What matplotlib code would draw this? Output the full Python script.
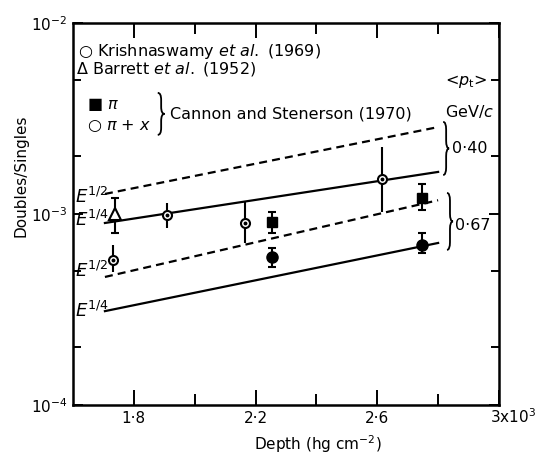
import numpy as np
import matplotlib
matplotlib.use("Agg")
import matplotlib.pyplot as plt
from matplotlib.path import Path
from matplotlib.patches import PathPatch
from matplotlib.ticker import FixedLocator, LogLocator, NullFormatter
from matplotlib.transforms import ScaledTranslation

plt.rcParams['font.family'] = ['DejaVu Sans']
plt.rcParams['mathtext.fontset'] = 'dejavusans'

# Krishnaswamy et al. (1969)
kris_x = [1.731, 1.908, 2.164, 2.617]
kris_y = [0.574e-3, 0.99e-3, 0.897e-3, 1.525e-3]
kris_lo = [0.497e-3, 0.845e-3, 0.705e-3, 1.02e-3]
kris_hi = [0.688e-3, 1.14e-3, 1.155e-3, 2.24e-3]

# Barrett et al. (1952)
barr_x = [1.738]
barr_y = [1.0e-3]
barr_lo = [0.795e-3]
barr_hi = [1.21e-3]

# Cannon and Stenerson (1970)
pi_x = [2.253, 2.748]
pi_y = [0.908e-3, 1.21e-3]
pi_lo = [0.795e-3, 1.05e-3]
pi_hi = [1.02e-3, 1.44e-3]

pix_x = [2.253, 2.748]
pix_y = [0.596e-3, 0.688e-3]
pix_lo = [0.528e-3, 0.625e-3]
pix_hi = [0.664e-3, 0.795e-3]

# E^n predictions for <pt> = 0.40 and 0.67 GeV/c
fit_x = [1.705, 2.80]
e12_040 = [1.273e-3, 2.85e-3]
e14_040 = [0.897e-3, 1.66e-3]
e12_067 = [0.468e-3, 1.18e-3]
e14_067 = [0.31e-3, 0.705e-3]

xtick_major = [1.8, 2.2, 2.6, 3.0]
xtick_labels = ["1·8", "2·2", "2·6", r"3x10$^3$"]
xtick_minor = [2.0, 2.4, 2.8]
ytick_major = [1e-4, 1e-3, 1e-2]
ytick_labels = [r"10$^{-4}$", r"10$^{-3}$", r"10$^{-2}$"]


def yerr(y, lo, hi):
    y = np.array(y)
    return [y - np.array(lo), np.array(hi) - y]


def brace(ax, x, y0, y1, w):
    ym = (y0 + y1) / 2
    r = min(0.02, (y1 - y0) / 6)
    xm = x + w / 2
    verts = [(x, y1), (xm, y1), (xm, y1 - r), (xm, ym + r), (xm, ym), (x + w, ym),
             (xm, ym), (xm, ym - r), (xm, y0 + r), (xm, y0), (x, y0)]
    codes = [Path.MOVETO, Path.CURVE3, Path.CURVE3, Path.LINETO, Path.CURVE3, Path.CURVE3,
             Path.CURVE3, Path.CURVE3, Path.LINETO, Path.CURVE3, Path.CURVE3]
    ax.add_patch(PathPatch(Path(verts, codes), fill=False, lw=1.3, color='k',
                           transform=ax.transAxes, clip_on=False))


fig = plt.figure(figsize=(5.43, 4.57), dpi=100)
ax = fig.add_axes([0.1344, 0.1138, 0.7845, 0.836])
ax.set_yscale('log')
ax.set_xlim(1.6, 3.0)
ax.set_ylim(1e-4, 1e-2)

dash = (0, (3.6, 2.3))
ax.plot(fit_x, e12_040, color='k', lw=1.6, ls=dash)
ax.plot(fit_x, e14_040, color='k', lw=1.6)
ax.plot(fit_x, e12_067, color='k', lw=1.6, ls=dash)
ax.plot(fit_x, e14_067, color='k', lw=1.6)

ax.errorbar(kris_x, kris_y, yerr=yerr(kris_y, kris_lo, kris_hi), fmt='o', ms=6.5,
            mfc='white', mec='k', mew=1.5, ecolor='k', elinewidth=1.5, capsize=0, zorder=3)
ax.plot(kris_x, kris_y, 'o', ms=1.8, color='k', zorder=4)
ax.errorbar(barr_x, barr_y, yerr=yerr(barr_y, barr_lo, barr_hi), fmt='^', ms=8,
            mfc='white', mec='k', mew=1.5, ecolor='k', elinewidth=1.5, capsize=3,
            capthick=1.5, zorder=3)
ax.errorbar(pi_x, pi_y, yerr=yerr(pi_y, pi_lo, pi_hi), fmt='s', ms=7, color='k',
            elinewidth=1.5, capsize=3, capthick=1.5, zorder=3)
ax.errorbar(pix_x, pix_y, yerr=yerr(pix_y, pix_lo, pix_hi), fmt='o', ms=8, color='k',
            elinewidth=1.5, capsize=3, capthick=1.5, zorder=3)

# axes styling
for sp in ax.spines.values():
    sp.set_linewidth(1.8)
ax.xaxis.set_major_locator(FixedLocator(xtick_major))
ax.xaxis.set_minor_locator(FixedLocator(xtick_minor))
ax.set_xticklabels(xtick_labels)
ax.yaxis.set_major_locator(FixedLocator(ytick_major))
ax.yaxis.set_minor_locator(LogLocator(base=10, subs=(2.0, 5.0)))
ax.yaxis.set_minor_formatter(NullFormatter())
ax.set_yticklabels(ytick_labels)
ax.tick_params(which='both', direction='in', top=True, right=True, width=1.4,
               labelsize=11)
ax.tick_params(axis='x', which='major', length=11, pad=4)
ax.tick_params(axis='x', which='minor', length=8)
ax.tick_params(axis='y', which='major', length=7, pad=4)
ax.tick_params(axis='y', which='minor', length=6)
last = ax.get_xticklabels()[-1]
last.set_horizontalalignment('left')
last.set_transform(last.get_transform() + ScaledTranslation(-9 / 100, 3 / 100, fig.dpi_scale_trans))

ax.set_xlabel(r"Depth (hg cm$^{-2}$)", fontsize=11)
ax.xaxis.set_label_coords(0.575, -0.074)
ax.set_ylabel("Doubles/Singles", fontsize=11)
ax.yaxis.set_label_coords(-0.105, 0.60)

# legend texts
tkw = dict(transform=ax.transAxes, fontsize=11.5, va='center', ha='left')
ax.text(0.012, 0.926, r"○ Krishnaswamy $\it{et\ al.}$ (1969)", **tkw)
ax.text(0.008, 0.880, r"Δ Barrett $\it{et\ al.}$ (1952)", **tkw)
ax.text(0.033, 0.787, r"■ $\it{\pi}$", **tkw)
ax.text(0.033, 0.730, r"○ $\it{\pi}$ + $\it{x}$", **tkw)
brace(ax, 0.199, 0.707, 0.817, 0.016)
ax.text(0.228, 0.762, "Cannon and Stenerson (1970)", **tkw)
ax.text(0.873, 0.846, r"<$\it{p}_{\rm t}$>", **tkw)
ax.text(0.873, 0.767, r"GeV/$\it{c}$", **tkw)
brace(ax, 0.869, 0.602, 0.741, 0.014)
ax.text(0.890, 0.672, "0·40", **tkw)
brace(ax, 0.878, 0.406, 0.555, 0.014)
ax.text(0.897, 0.470, "0·67", **tkw)

ekw = dict(transform=ax.transAxes, fontsize=13, va='center', ha='left')
ax.text(0.004, 0.545, r"$\it{E}^{1/2}$", **ekw)
ax.text(0.004, 0.484, r"$\it{E}^{1/4}$", **ekw)
ax.text(0.004, 0.350, r"$\it{E}^{1/2}$", **ekw)
ax.text(0.004, 0.245, r"$\it{E}^{1/4}$", **ekw)

fig.savefig("out.png", dpi=100)
